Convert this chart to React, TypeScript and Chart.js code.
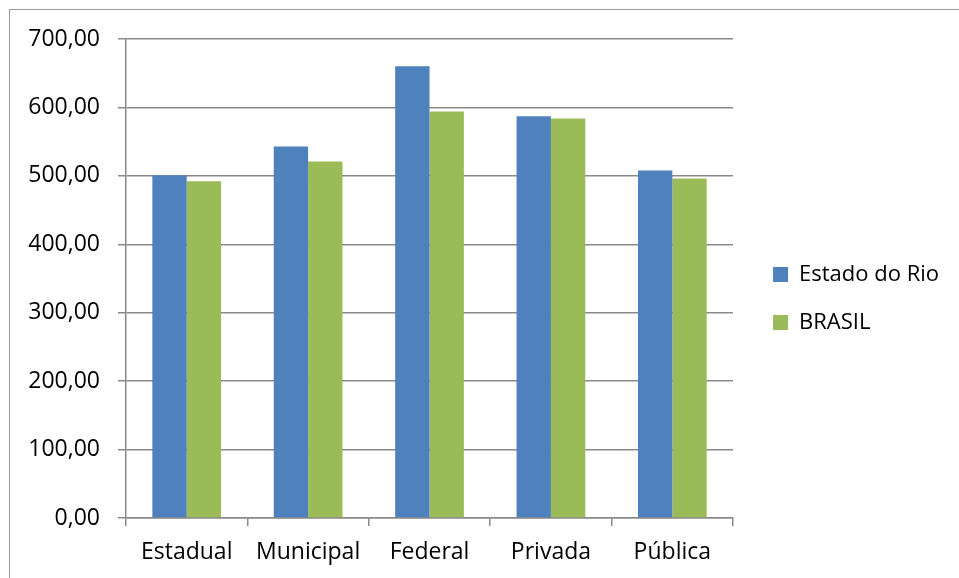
import React, { useEffect, useRef } from "react";
import { Chart, registerables } from "chart.js";

Chart.register(...registerables);

const categories = ["Estadual", "Municipal", "Federal", "Privada", "Pública"];
const estadoDoRio = [501, 543, 660, 587, 508];
const brasil = [492, 521, 594, 584, 496];
const seriesNames = ["Estado do Rio", "BRASIL"];
const yTicks = [0, 100, 200, 300, 400, 500, 600, 700];

const FONT = "'Open Sans', sans-serif";
const GRID = "#8a8a8a";

export default function App() {
  const ref = useRef<HTMLCanvasElement | null>(null);

  useEffect(() => {
    if (!ref.current) return;
    const chart = new Chart(ref.current, {
      type: "bar",
      data: {
        labels: categories,
        datasets: [
          {
            label: seriesNames[0],
            data: estadoDoRio,
            backgroundColor: "#4F81BD",
            borderWidth: 0,
            barPercentage: 1,
            categoryPercentage: 0.566,
          },
          {
            label: seriesNames[1],
            data: brasil,
            backgroundColor: "#9BBB59",
            borderWidth: 0,
            barPercentage: 1,
            categoryPercentage: 0.566,
          },
        ],
      },
      options: {
        animation: false,
        responsive: false,
        layout: { padding: { top: 19, left: 0, right: 10, bottom: 0 } },
        plugins: {
          tooltip: { enabled: false },
          legend: {
            position: "right",
            align: "center",
            maxWidth: 400,
            labels: {
              boxWidth: 15,
              boxHeight: 15,
              padding: 26,
              color: "#000",
              font: { family: FONT, size: 22 },
            },
          },
        },
        scales: {
          x: {
            position: "bottom",
            grid: {
              display: true,
              drawOnChartArea: false,
              drawTicks: true,
              tickLength: 8,
              color: GRID,
              lineWidth: 1.5,
            },
            border: { display: true, color: GRID, width: 1.5 },
            ticks: {
              color: "#000",
              padding: 13,
              font: { family: FONT, size: 23 },
            },
            afterFit: (s: any) => {
              s.height = 60;
            },
          },
          y: {
            position: "left",
            min: 0,
            max: 700,
            afterBuildTicks: (s: any) => {
              s.ticks = yTicks.map((v) => ({ value: v }));
            },
            grid: {
              color: GRID,
              lineWidth: 1.5,
              drawTicks: true,
              tickLength: 8,
            },
            border: { display: true, color: GRID, width: 1.5 },
            ticks: {
              color: "#000",
              padding: 18,
              font: { family: FONT, size: 23 },
              callback: (v: any) => Number(v).toFixed(2).replace(".", ","),
            },
            afterFit: (s: any) => {
              s.width = 126;
            },
          },
          xTop: {
            type: "linear",
            axis: "x",
            position: "top",
            display: true,
            grid: { display: false },
            border: { display: false },
            ticks: { display: false },
            afterFit: (s: any) => {
              s.height = 20;
            },
          },
          yRight: {
            type: "linear",
            axis: "y",
            position: "right",
            display: true,
            grid: { display: false },
            border: { display: false },
            ticks: { display: false },
            afterFit: (s: any) => {
              s.width = 14;
            },
          },
        },
      },
    });
    return () => chart.destroy();
  }, []);

  return (
    <div
      style={{
        position: "absolute",
        left: 0,
        top: 0,
        width: 959,
        height: 578,
        overflow: "hidden",
        background: "#fff",
      }}
    >
      <div
        style={{
          position: "absolute",
          left: 9,
          top: 9,
          width: 1200,
          height: 1200,
          borderTop: "1.5px solid #9a9a9a",
          borderLeft: "1.5px solid #9a9a9a",
        }}
      />
      <canvas
        ref={ref}
        width={959}
        height={578}
        style={{ position: "absolute", left: 0, top: 0, width: 959, height: 578 }}
      />
    </div>
  );
}
